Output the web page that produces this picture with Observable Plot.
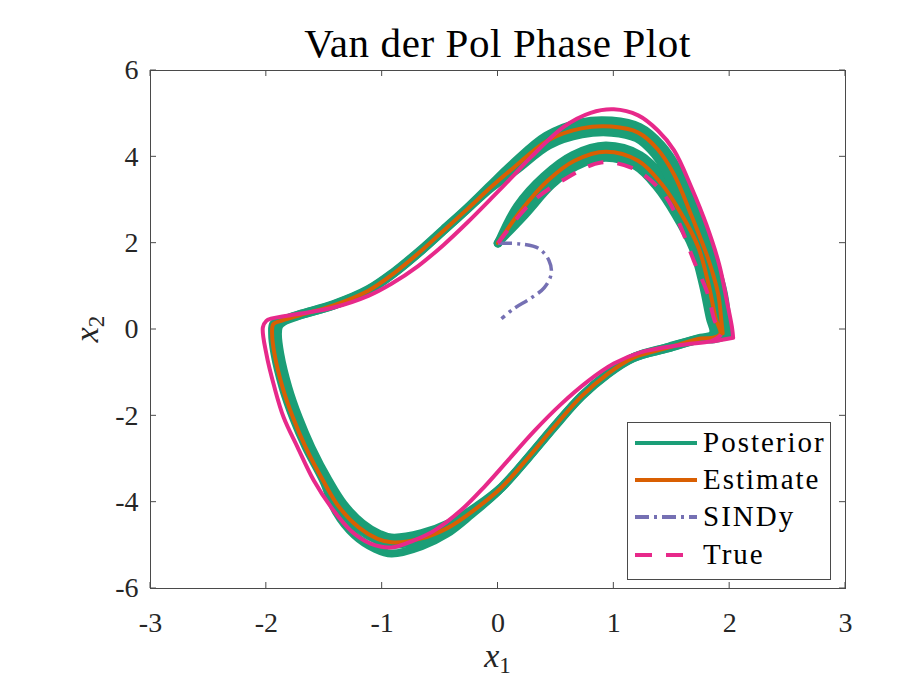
<!DOCTYPE html>
<html>
<head>
<meta charset="utf-8">
<script src="https://cdn.jsdelivr.net/npm/d3@7"></script>
<script src="https://cdn.jsdelivr.net/npm/@observablehq/plot@0.6"></script>
<style>
  body { margin: 0; background: #ffffff; }
  #chart svg { display: block; }
</style>
</head>
<body>
<div id="chart"></div>
<script>
// ---------- data ----------
const xTicks = [-3, -2, -1, 0, 1, 2, 3];
const yTicks = [-6, -4, -2, 0, 2, 4, 6];
const seriesNames = ["Posterior", "Estimate", "SINDy", "True"];

// Estimate trajectory (x1, x2)
const estX1 = [0.00,0.20,0.43,0.66,0.93,1.21,1.41,1.58,1.73,1.82,1.88,1.92,1.86,1.75,1.47,1.17,0.95,0.72,0.48,0.26,0.03,-0.21,-0.43,-0.66,-0.92,-1.04,-1.20,-1.37,-1.51,-1.66,-1.77,-1.86,-1.93,-1.95,-1.94,-1.86,-1.70,-1.42,-1.12,-0.90,-0.66,-0.47,-0.26,-0.06,0.14,0.43,0.72,0.98,1.21,1.38,1.52,1.67,1.81,1.90,1.93,1.94];
const estX2 = [2.00,2.76,3.45,3.91,4.12,3.91,3.38,2.69,1.90,1.02,0.25,-0.10,-0.19,-0.21,-0.42,-0.65,-1.02,-1.55,-2.27,-2.97,-3.66,-4.19,-4.59,-4.84,-4.93,-4.85,-4.59,-4.12,-3.50,-2.73,-2.04,-1.34,-0.56,-0.10,0.12,0.21,0.34,0.56,0.90,1.30,1.83,2.29,2.80,3.30,3.76,4.38,4.66,4.70,4.56,4.17,3.59,2.64,1.67,0.83,0.16,-0.09];

// Posterior: central trajectory plus outer and inner edge trajectories of the band
const postMidX1 = [0.00,0.20,0.43,0.66,0.93,1.21,1.41,1.58,1.73,1.82,1.88,1.92,1.86,1.75,1.47,1.17,0.95,0.72,0.48,0.26,0.03,-0.21,-0.43,-0.66,-0.92,-1.04,-1.20,-1.37,-1.49,-1.64,-1.75,-1.84,-1.91,-1.93,-1.92,-1.86,-1.70,-1.42,-1.12,-0.90,-0.66,-0.47,-0.26,-0.06,0.14,0.43,0.72,0.98,1.21,1.38,1.52,1.67,1.81,1.90,1.93,1.94];
const postMidX2 = [2.00,2.76,3.45,3.91,4.12,3.91,3.38,2.69,1.90,1.02,0.25,-0.10,-0.19,-0.21,-0.42,-0.65,-1.02,-1.55,-2.27,-2.97,-3.66,-4.20,-4.61,-4.87,-4.97,-4.88,-4.61,-4.13,-3.50,-2.73,-2.04,-1.34,-0.56,-0.10,0.12,0.21,0.35,0.57,0.91,1.31,1.84,2.30,2.81,3.31,3.76,4.38,4.66,4.70,4.56,4.17,3.59,2.64,1.67,0.83,0.16,-0.09];
const postAX1 = [0.00,0.165,0.395,0.645,0.93,1.23,1.45,1.63,1.78,1.87,1.93,1.96,1.86,1.75,1.47,1.165,0.94,0.71,0.47,0.245,0.01,-0.23,-0.44,-0.66,-0.92,-1.06,-1.24,-1.40,-1.51,-1.66,-1.77,-1.86,-1.93,-1.95,-1.94,-1.86,-1.70,-1.42,-1.125,-0.905,-0.665,-0.475,-0.265,-0.07,0.12,0.415,0.715,0.98,1.225,1.41,1.565,1.72,1.86,1.95,1.98,1.98];
const postAX2 = [2.00,2.86,3.55,4.04,4.26,4.04,3.46,2.72,1.91,1.02,0.25,-0.13,-0.23,-0.23,-0.44,-0.67,-1.04,-1.58,-2.30,-3.01,-3.73,-4.29,-4.73,-5.02,-5.19,-5.08,-4.76,-4.22,-3.50,-2.73,-2.04,-1.34,-0.56,-0.10,0.13,0.23,0.37,0.59,0.93,1.33,1.86,2.32,2.83,3.34,3.83,4.49,4.80,4.84,4.69,4.28,3.66,2.67,1.68,0.83,0.16,-0.13];
const postBX1 = [0.00,0.235,0.465,0.675,0.93,1.19,1.37,1.53,1.68,1.77,1.83,1.86,1.84,1.75,1.47,1.175,0.96,0.73,0.49,0.275,0.05,-0.19,-0.42,-0.66,-0.92,-1.02,-1.17,-1.33,-1.46,-1.61,-1.72,-1.81,-1.88,-1.90,-1.89,-1.85,-1.70,-1.42,-1.12,-0.90,-0.66,-0.47,-0.26,-0.055,0.16,0.445,0.725,0.98,1.195,1.35,1.475,1.62,1.76,1.85,1.88,1.90];
const postBX2 = [2.00,2.66,3.35,3.78,3.98,3.78,3.30,2.66,1.89,1.02,0.25,-0.05,-0.14,-0.19,-0.40,-0.63,-1.00,-1.52,-2.24,-2.93,-3.60,-4.10,-4.48,-4.72,-4.82,-4.74,-4.49,-4.05,-3.50,-2.73,-2.04,-1.34,-0.56,-0.10,0.08,0.18,0.33,0.55,0.89,1.29,1.82,2.28,2.79,3.28,3.69,4.27,4.52,4.56,4.43,4.06,3.52,2.61,1.66,0.83,0.16,-0.06];

// SINDy trajectory
const sindyX1 = [0.00,0.20,0.35,0.44,0.46,0.40,0.28,0.14,0.03];
const sindyX2 = [2.00,1.98,1.88,1.60,1.30,0.97,0.72,0.49,0.25];

// True trajectory: first transient arc, then the repeated limit cycle
const trueTransX1 = [0.00,0.28,0.60,0.89,1.15,1.32,1.47,1.58,1.69,1.81,1.87,1.93,1.84];
const trueTransX2 = [2.00,2.92,3.52,3.87,3.75,3.45,2.99,2.36,1.60,0.83,0.21,-0.10,-0.27];
const trueCycleX1 = [2.03,1.84,1.55,1.23,1.00,0.78,0.54,0.31,0.09,-0.12,-0.32,-0.55,-0.73,-0.92,-1.10,-1.27,-1.44,-1.59,-1.73,-1.85,-1.93,-2.00,-2.03,-2.00,-1.96,-1.70,-1.42,-1.12,-0.92,-0.69,-0.47,-0.26,-0.06,0.11,0.28,0.57,0.80,1.00,1.21,1.38,1.52,1.67,1.80,1.91,1.98,2.02,2.03];
const trueCycleX2 = [-0.19,-0.28,-0.37,-0.53,-0.79,-1.19,-1.74,-2.36,-3.02,-3.65,-4.19,-4.66,-4.89,-5.05,-4.96,-4.66,-4.12,-3.50,-2.73,-2.04,-1.34,-0.56,0.05,0.20,0.25,0.37,0.51,0.78,1.06,1.47,1.96,2.49,3.03,3.50,3.98,4.70,5.02,5.10,4.96,4.61,4.15,3.29,2.42,1.50,0.60,0.05,-0.19];

// ---------- build tables ----------
const rows = (xs, ys) => xs.map((x, i) => ({x1: x, x2: ys[i]}));
const estimate = rows(estX1, estX2);
const postMid = rows(postMidX1, postMidX2);
const postA = rows(postAX1, postAX2);
const postB = rows(postBX1, postBX2);
const sindy = rows(sindyX1, sindyX2);
const trueTrans = rows(trueTransX1, trueTransX2);
const trueCycle = rows(trueCycleX1, trueCycleX2);

const GREEN = "#1b9e77", ORANGE = "#d95f02", PURPLE = "#7570b3", PINK = "#e7298a";
const AXIS = "#4a4a4a", TEXT = "#262626";
const FONT = "'Liberation Serif', 'Times New Roman', serif";

const lineOpts = (stroke, width, extra = {}) => ({
  x: "x1", y: "x2", stroke, strokeWidth: width, curve: "catmull-rom",
  strokeLinejoin: "round", strokeLinecap: "round", ...extra
});

const chart = Plot.plot({
  width: 921, height: 680,
  marginLeft: 150, marginRight: 76, marginTop: 70, marginBottom: 92,
  style: {fontFamily: FONT, background: "#ffffff", color: TEXT},
  x: {domain: [-3, 3], label: null},
  y: {domain: [-6, 6], label: null},
  marks: [
    Plot.axisX(xTicks, {tickSize: 0, tickPadding: 24, fontSize: 28, tickFormat: d => String(d), label: null, fill: TEXT}),
    Plot.axisY(yTicks, {tickSize: 0, tickPadding: 12, fontSize: 28, tickFormat: d => String(d), label: null, fill: TEXT}),
    Plot.line(postMid, lineOpts(GREEN, 9)),
    Plot.line(postA, lineOpts(GREEN, 8)),
    Plot.line(postB, lineOpts(GREEN, 8)),
    Plot.line(estimate, lineOpts(ORANGE, 4)),
    Plot.line(sindy, lineOpts(PURPLE, 3.5, {strokeDasharray: "14,5,3,5", strokeLinecap: "butt"})),
    Plot.line(trueCycle, lineOpts(PINK, 4)),
    Plot.line(trueTrans, lineOpts(PINK, 4, {strokeDasharray: "16,14", strokeLinecap: "butt"})),
    Plot.frame({stroke: AXIS, strokeWidth: 1})
  ]
});

document.getElementById("chart").appendChild(chart);

// ---------- inward ticks on all four sides (positions from Plot's scales) ----------
const sx = chart.scale("x"), sy = chart.scale("y");
const svg = d3.select(chart);
const tickG = svg.append("g").attr("stroke", AXIS).attr("stroke-width", 1);
const T = 6;
const yB = sy.apply(-6), yT = sy.apply(6), xL = sx.apply(-3), xR = sx.apply(3);
xTicks.forEach(v => {
  const X = sx.apply(v);
  tickG.append("line").attr("x1", X).attr("x2", X).attr("y1", yB).attr("y2", yB - T);
  tickG.append("line").attr("x1", X).attr("x2", X).attr("y1", yT).attr("y2", yT + T);
});
yTicks.forEach(v => {
  const Y = sy.apply(v);
  tickG.append("line").attr("y1", Y).attr("y2", Y).attr("x1", xL).attr("x2", xL + T);
  tickG.append("line").attr("y1", Y).attr("y2", Y).attr("x1", xR).attr("x2", xR - T);
});

// ---------- title ----------
const cx = (xL + xR) / 2;
svg.append("text")
  .attr("x", cx).attr("y", 57)
  .attr("text-anchor", "middle")
  .attr("font-family", FONT).attr("font-size", 41).attr("letter-spacing", 0.6)
  .attr("fill", "#000")
  .text("Van der Pol Phase Plot");

// ---------- axis labels ----------
const xl = svg.append("text")
  .attr("x", cx).attr("y", 667)
  .attr("text-anchor", "middle")
  .attr("font-family", FONT).attr("font-size", 34).attr("fill", TEXT);
xl.append("tspan").attr("font-style", "italic").text("x");
xl.append("tspan").attr("font-size", 23).attr("dy", 6).text("1");

const yl = svg.append("text")
  .attr("transform", `translate(98, ${(yT + yB) / 2}) rotate(-90)`)
  .attr("text-anchor", "middle")
  .attr("font-family", FONT).attr("font-size", 34).attr("fill", TEXT);
yl.append("tspan").attr("font-style", "italic").text("x");
yl.append("tspan").attr("font-size", 23).attr("dy", 6).text("2");

// ---------- legend ----------
const lg = svg.append("g");
lg.append("rect")
  .attr("x", 627.5).attr("y", 422.5).attr("width", 203).attr("height", 157)
  .attr("fill", "#fff").attr("stroke", AXIS).attr("stroke-width", 1);
const legendStyles = [
  {stroke: GREEN, dash: null},
  {stroke: ORANGE, dash: null},
  {stroke: PURPLE, dash: "14,5,3,5"},
  {stroke: PINK, dash: "17,14"}
];
const legendY = [443, 480, 517, 555];
seriesNames.forEach((name, i) => {
  const y = legendY[i];
  const ln = lg.append("line")
    .attr("x1", 635).attr("x2", 697).attr("y1", y).attr("y2", y)
    .attr("stroke", legendStyles[i].stroke).attr("stroke-width", 4);
  if (legendStyles[i].dash) ln.attr("stroke-dasharray", legendStyles[i].dash);
  lg.append("text")
    .attr("x", 703).attr("y", y + 9)
    .attr("text-anchor", "start")
    .attr("font-family", FONT).attr("font-size", 29).attr("letter-spacing", 2)
    .attr("fill", "#000")
    .text(name);
});
</script>
</body>
</html>
